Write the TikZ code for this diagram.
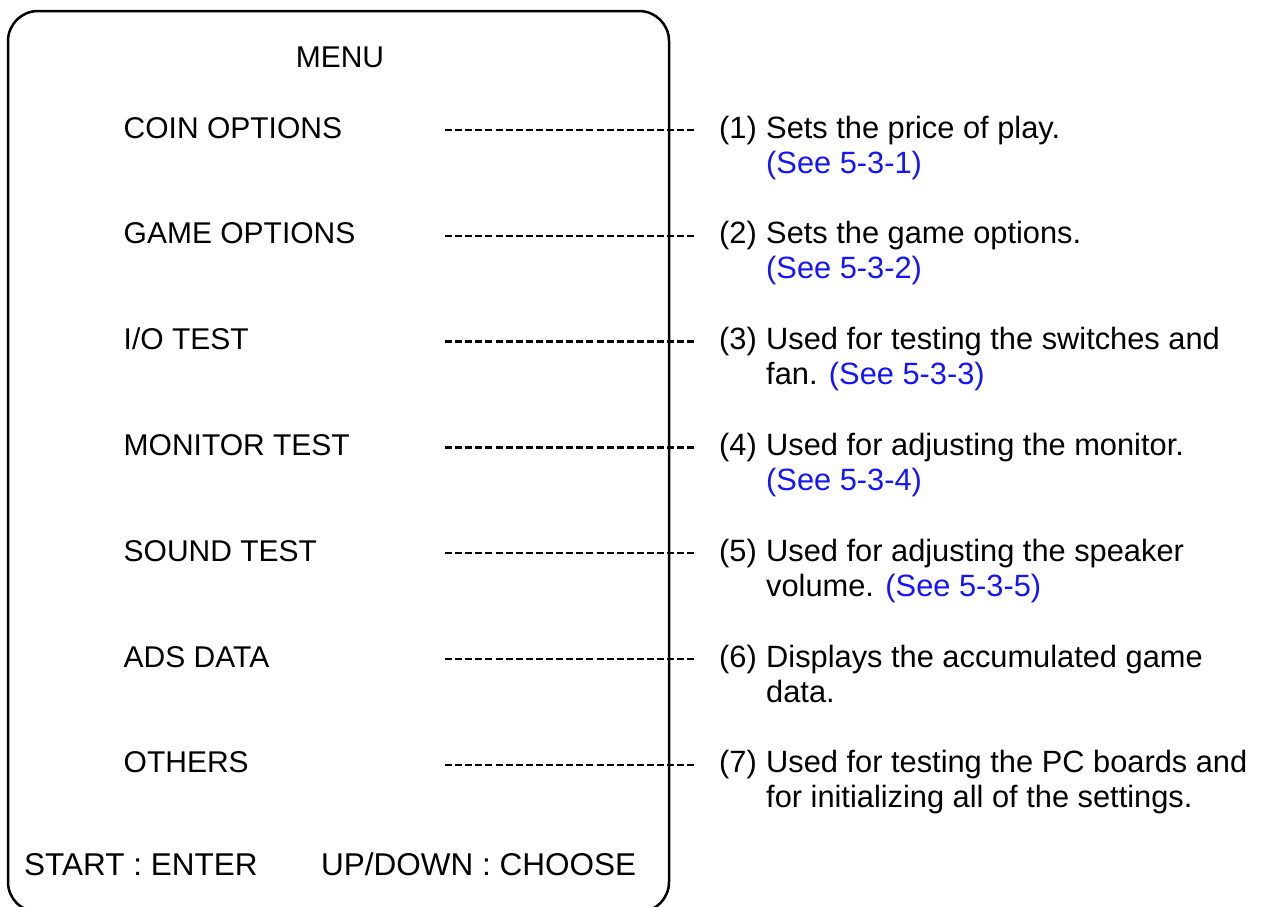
\documentclass[tikz,border=0pt]{standalone}
\usepackage{fontspec}
\setmainfont{Liberation Sans}
\definecolor{refblue}{RGB}{20,20,255}
\begin{document}
\begin{tikzpicture}[x=1pt,y=-1pt,
  txt/.style={inner sep=0pt, anchor=base west, font=\fontsize{30}{35}\selectfont},
  desc/.style={txt, font=\fontsize{30.8}{35}\selectfont},
  foot/.style={txt, font=\fontsize{31.5}{35}\selectfont},
  ref/.style={text=refblue},
  lead/.style={line width=2.4pt, dash pattern=on 7pt off 3.1pt},
  frame/.style={line width=2.5pt, rounded corners=30pt}]
\useasboundingbox (0,0) rectangle (1261,906);
\begin{scope}
  \clip (0,0) rectangle (1261,906);
  \draw[frame] (8,11) rectangle (669,912);
\end{scope}

\node[txt, anchor=base] (menu) at (340,67) {MENU};

% rows
\foreach \i/\y/\item in {1/138/{COIN OPTIONS}, 2/243.8/{GAME OPTIONS}, 3/349.6/{I/O TEST}, 4/455.4/{MONITOR TEST}, 5/561.2/{SOUND TEST}, 6/667/{ADS DATA}, 7/772.8/{OTHERS}}{
  \node[txt] (m\i) at (123.5,\y) {\item};
  \node[desc] (n\i) at (719,\y) {(\i)};
  \coordinate (a\i) at (445,\y-8);
  \coordinate (b\i) at (697,\y-8);
  \draw[lead] (a\i) -- (b\i);
}

\node[desc] (d1) at (766,138) {Sets the price of play.};
\node[desc, ref] (d1b) at (766,173) {(See 5-3-1)};
\node[desc] (d2) at (766,243.8) {Sets the game options.};
\node[desc, ref] (d2b) at (766,278.8) {(See 5-3-2)};
\node[desc] (d3) at (766,349.6) {Used for testing the switches and};
\node[desc] (d3b) at (766,384.6) {fan. \textcolor{refblue}{(See 5-3-3)}};
\node[desc] (d4) at (766,455.4) {Used for adjusting the monitor.};
\node[desc, ref] (d4b) at (766,490.4) {(See 5-3-4)};
\node[desc] (d5) at (766,561.2) {Used for adjusting the speaker};
\node[desc] (d5b) at (766,596.2) {volume. \textcolor{refblue}{(See 5-3-5)}};
\node[desc] (d6) at (766,667) {Displays the accumulated game};
\node[desc] (d6b) at (766,702) {data.};
\node[desc] (d7) at (766,772.8) {Used for testing the PC boards and};
\node[desc] (d7b) at (766,807.8) {for initializing all of the settings.};

\node[foot] (start) at (24,875) {START : ENTER};
\node[foot] (updown) at (321,875) {UP/DOWN : CHOOSE};
\end{tikzpicture}
\end{document}
